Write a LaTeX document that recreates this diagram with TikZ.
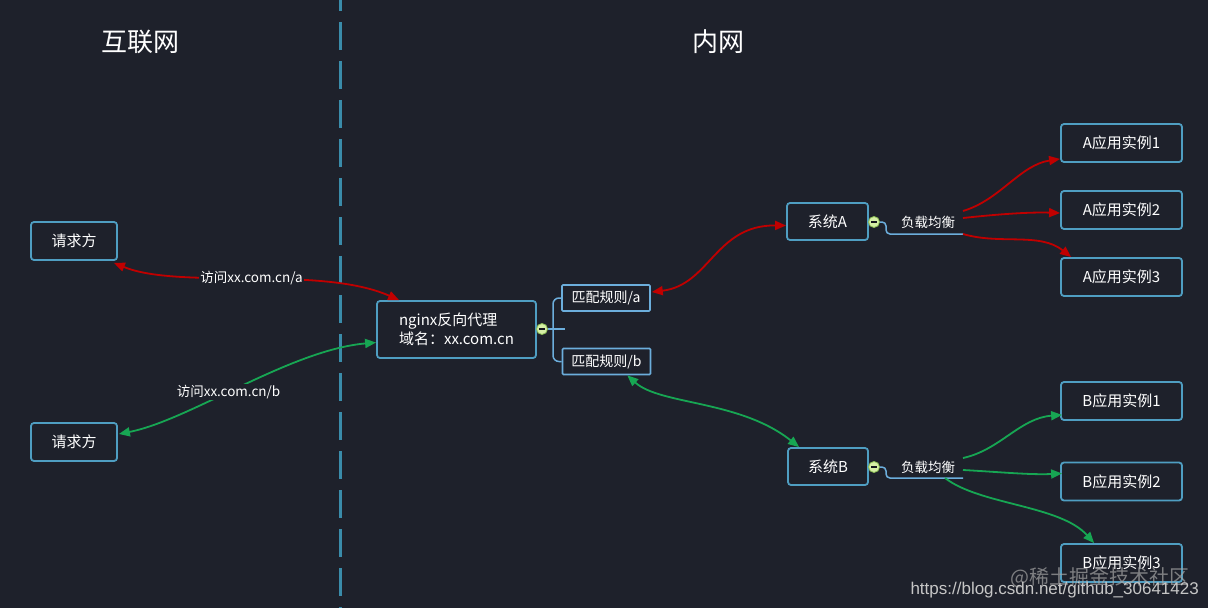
\documentclass[tikz,border=0pt]{standalone}
\usepackage{fontspec}
\setmainfont{Noto Sans CJK SC}
\newfontfamily\wmfont{Liberation Sans}
\usetikzlibrary{arrows.meta,calc}
\definecolor{bg}{HTML}{1E212B}
\definecolor{boxblue}{HTML}{4F9EC2}
\definecolor{ruleblue}{HTML}{6CAEDC}
\definecolor{dashblue}{HTML}{3A8CAA}
\definecolor{redline}{HTML}{C00000}
\definecolor{greenline}{HTML}{17A653}
\definecolor{knob}{HTML}{D6EFA6}
\definecolor{knobedge}{HTML}{8DBF55}
\tikzset{
  tip/.tip={Triangle[length=11pt,width=9pt]},
  box/.style={draw=boxblue, line width=1.8pt, rounded corners=3pt, fill=bg, text=white,
    inner sep=0pt, font=\fontsize{15}{19}\selectfont},
  rulebox/.style={draw=ruleblue, line width=1.6pt, rounded corners=1pt, fill=bg, text=white,
    inner sep=0pt, minimum width=88pt, minimum height=26pt, font=\fontsize{14}{16}\selectfont},
  inst/.style={box, minimum width=121pt, minimum height=38pt},
  redarr/.style={draw=redline, line width=1.8pt, -tip},
  greenarr/.style={draw=greenline, line width=1.8pt, -tip},
  redboth/.style={redarr, tip-tip},
  greenboth/.style={greenarr, tip-tip},
  knobc/.style={circle, draw=knobedge, fill=knob, line width=0.8pt, minimum size=11pt, inner sep=0pt,
    path picture={\draw[bg!70!black, line width=1.2pt] ($(path picture bounding box.west)+(2.5pt,0)$) -- ($(path picture bounding box.east)+(-2.5pt,0)$);}},
  branch/.style={draw=ruleblue, line width=1.5pt},
  lbl/.style={text=white, font=\fontsize{13.5}{15}\selectfont, inner sep=1pt},
  edgelbl/.style={fill=bg, text=white, font=\fontsize{13.5}{15}\selectfont, inner sep=1pt},
  title/.style={text=white, font=\fontsize{26}{30}\selectfont},
}
\begin{document}
\begin{tikzpicture}[x=1pt,y=-1pt]
\fill[bg] (0,0) rectangle (1208,608);
\useasboundingbox (0,0) rectangle (1208,608);
\draw[dashblue, line width=3pt, dash pattern=on 28pt off 11pt, dash phase=17pt] (340,0) -- (340,608);

\node[title] (t1) at (140,42) {互联网};
\node[title] (t2) at (718,42) {内网};

\node[box, minimum width=86pt, minimum height=38pt] (q1) at (74,241) {请求方};
\node[box, minimum width=86pt, minimum height=38pt] (q2) at (74,442) {请求方};
\node[box, minimum width=159pt, minimum height=57pt, align=left] (ng) at (456.5,329.5) {nginx反向代理\\域名：xx.com.cn};
\node[rulebox] (ra) at (606,298) {匹配规则/a};
\node[rulebox] (rb) at (606.5,361.5) {匹配规则/b};
\node[box, minimum width=81pt, minimum height=37pt] (sa) at (827.5,221.5) {系统A};
\node[box, minimum width=80pt, minimum height=37pt] (sb) at (828,466.5) {系统B};
\node[inst] (a1) at (1121.5,143) {A应用实例1};
\node[inst] (a2) at (1121.5,210) {A应用实例2};
\node[inst] (a3) at (1121.5,277) {A应用实例3};
\node[inst] (b1) at (1121.5,401) {B应用实例1};
\node[inst] (b2) at (1121.5,481.5) {B应用实例2};
\node[inst] (b3) at (1121.5,563) {B应用实例3};

% nginx branch
\draw[branch, rounded corners=6pt] (ra.west) -| (553,329) |- (rb.west);
\node[knobc] (k1) at (542,329) {};
\draw[branch] (k1.east) -- (565,329);

% system A load balance
\node[lbl] (la) at (928,222) {负载均衡};
\node[knobc] (k2) at (874,222) {};
\draw[branch, rounded corners=4pt] (k2.east) -| (886,234) -- (963,234);
\coordinate (la1) at (963,211);
\coordinate (la2) at (963,218);
\coordinate (la3) at (963,234);

% system B load balance
\node[lbl] (lb) at (928,467) {负载均衡};
\node[knobc] (k3) at (874,467) {};
\draw[branch, rounded corners=4pt] (k3.east) -| (886,478) -- (963,478);
\coordinate (lb1) at (963,458);
\coordinate (lb2) at (963,470);
\coordinate (lb3) at (945,478);

% left connectors
\draw[redboth] ($(q1.south east)+(-4,2)$) .. controls (180,290) and (320,265) .. ($(ng.north west)+(23,0)$)
  node[pos=0.5, edgelbl] {访问xx.com.cn/a};
\draw[greenboth] ($(q2.east)+(1,-8)$) .. controls (190,420) and (290,350) .. ($(ng.west)+(0,13)$)
  node[pos=0.45, edgelbl] {访问xx.com.cn/b};

% rule -> system
\draw[redboth] ($(ra.east)+(1,-6)$) .. controls (710,285) and (715,225) .. ($(sa.west)+(0,4)$);
\draw[greenboth] ($(rb.south east)+(-24,0)$) .. controls (660,405) and (740,400) .. ($(sb.north west)+(12,0)$);

% load balance -> instances
\draw[redarr] (la1) .. controls (1000,200) and (1020,165) .. ($(a1.south west)+(0,-4)$);
\draw[redarr] (la2) .. controls (1000,214) and (1030,212) .. ($(a2.west)+(0,3)$);
\draw[redarr] (la3) .. controls (1000,245) and (1040,232) .. ($(a3.north west)+(11,0)$);

\draw[greenarr] (lb1) .. controls (1000,450) and (1020,418) .. ($(b1.south west)+(2,-6)$);
\draw[greenarr] (lb2) .. controls (1000,472) and (1030,475) .. ($(b2.west)+(2,-8)$);
\draw[greenarr] (lb3) .. controls (980,505) and (1060,505) .. ($(b3.north west)+(34,0)$);

% watermark
\node[text=gray!70, opacity=0.7, font=\fontsize{20}{22}\selectfont, anchor=east, inner sep=0pt] (wm1) at (1190,578) {@稀土掘金技术社区};
\node[text=gray!45, font=\wmfont\fontsize{17}{19}\selectfont, anchor=east, inner sep=0pt] (wm2) at (1199,590) {https://blog.csdn.net/github\_30641423};
\end{tikzpicture}
\end{document}
